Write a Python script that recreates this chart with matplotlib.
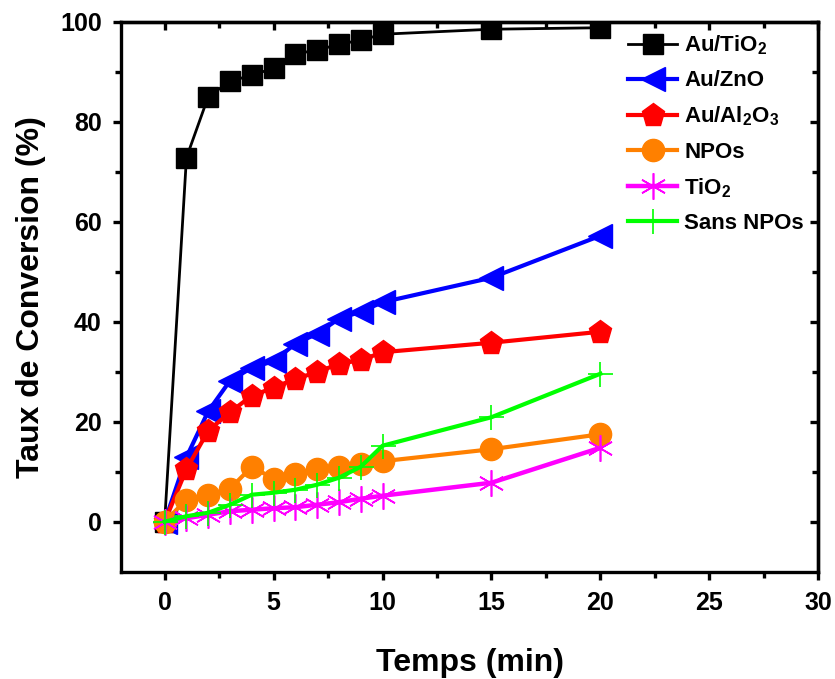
import matplotlib
matplotlib.use("Agg")
import matplotlib.pyplot as plt
from matplotlib.ticker import MultipleLocator

plt.rcParams["font.family"] = ["Liberation Sans", "DejaVu Sans"]
plt.rcParams["font.weight"] = "bold"
plt.rcParams["mathtext.fontset"] = "custom"
plt.rcParams["mathtext.rm"] = "Liberation Sans:bold"
plt.rcParams["mathtext.bf"] = "Liberation Sans:bold"
plt.rcParams["mathtext.default"] = "bf"

# temps (min)
temps = [0, 1, 2, 3, 4, 5, 6, 7, 8, 9, 10, 15, 20]

# taux de conversion (%)
au_tio2   = [0, 72.8, 85.0, 88.1, 89.3, 90.7, 93.6, 94.3, 95.5, 96.3, 97.5, 98.5, 98.8]
au_zno    = [0, 12.9, 22.1, 28.2, 30.8, 32.1, 35.6, 37.6, 40.6, 42.0, 43.9, 48.8, 57.2]
au_al2o3  = [0, 10.5, 18.2, 21.9, 25.2, 26.8, 28.6, 29.9, 31.6, 32.3, 33.9, 35.8, 38.0]
npos      = [0, 4.4, 5.4, 6.6, 11.0, 8.6, 9.5, 10.5, 11.0, 11.5, 12.1, 14.5, 17.5]
tio2      = [0, 0.7, 1.4, 2.1, 2.4, 2.7, 2.9, 3.4, 3.9, 4.6, 5.2, 7.8, 14.8]
sans_npos = [0, 1.1, 1.8, 3.4, 5.4, 5.8, 6.4, 7.4, 8.8, 11.0, 15.2, 20.9, 29.6]

series = [
    (au_tio2,   r"Au/TiO$_2$",     "black",   "s",       14, 2.0, 1.0),
    (au_zno,    "Au/ZnO",          "#0000FF", "<",       17, 3.0, 1.0),
    (au_al2o3,  r"Au/Al$_2$O$_3$", "#FF0000", "p",       17, 3.0, 1.0),
    (npos,      "NPOs",            "#FF8000", "o",       16, 3.0, 1.0),
    (tio2,      r"TiO$_2$",        "#FF00FF", (6, 2, 0), 19, 3.2, 1.2),
    (sans_npos, "Sans NPOs",       "#00FF00", "+",       18, 3.0, 1.2),
]

fig = plt.figure(figsize=(8.35, 6.79), dpi=100)
ax = fig.add_axes([0.145, 0.158, 0.835, 0.81])

for y, label, color, marker, ms, lw, mew in series:
    ax.plot(temps, y, color=color, lw=lw, marker=marker, ms=ms,
            mfc=color, mec=color, mew=mew, label=label)

ax.set_xlim(-2, 30)
ax.set_ylim(-10, 100)
ax.xaxis.set_major_locator(MultipleLocator(5))
ax.xaxis.set_minor_locator(MultipleLocator(2.5))
ax.set_yticks([0, 20, 40, 60, 80, 100])
ax.set_yticks([10, 30, 50, 70, 90], minor=True)

for sp in ax.spines.values():
    sp.set_linewidth(2.4)
ax.tick_params(which="major", direction="out", length=6, width=2.4, labelsize=18, pad=8)
ax.tick_params(which="minor", direction="out", length=4, width=2.4)

top = ax.secondary_xaxis("top")
top.xaxis.set_major_locator(MultipleLocator(5))
top.xaxis.set_minor_locator(MultipleLocator(2.5))
top.tick_params(which="major", direction="in", length=6, width=2.4, labeltop=False)
top.tick_params(which="minor", direction="in", length=4, width=2.4)
top.spines["top"].set_linewidth(2.4)

right = ax.secondary_yaxis("right")
right.set_yticks([0, 20, 40, 60, 80, 100])
right.set_yticks([10, 30, 50, 70, 90], minor=True)
right.tick_params(which="major", direction="in", length=6, width=2.4, labelright=False)
right.tick_params(which="minor", direction="in", length=4, width=2.4)
right.spines["right"].set_linewidth(2.4)

ax.set_xlabel("Temps (min)", fontsize=23, fontweight="bold", labelpad=24)
ax.set_ylabel("Taux de Conversion (%)", fontsize=23, fontweight="bold", labelpad=10)

ax.legend(loc="upper left", bbox_to_anchor=(0.715, 0.995), frameon=False,
          prop={"size": 16, "weight": "bold"}, handlelength=2.2,
          handletextpad=0.3, labelspacing=0.6, borderaxespad=0)

fig.savefig("out.png", dpi=100)
